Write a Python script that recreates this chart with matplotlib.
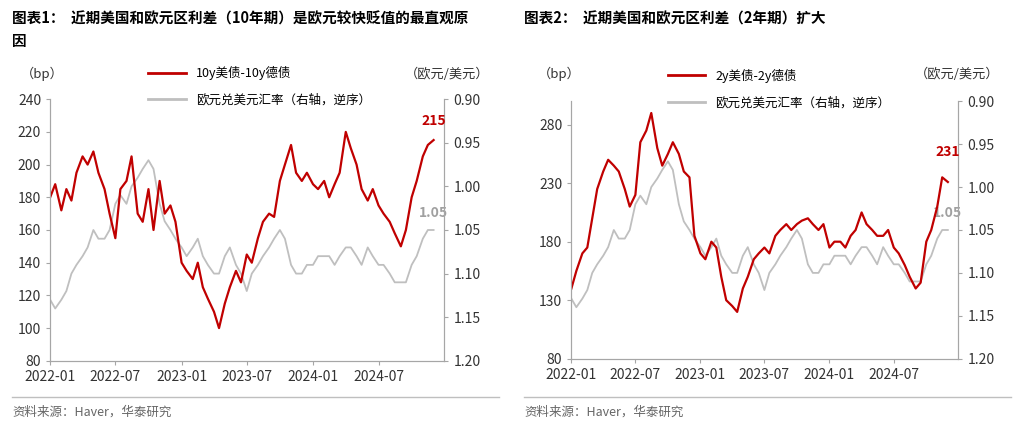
import numpy as np
import pandas as pd
import matplotlib.pyplot as plt
import matplotlib.dates as mdates

plt.rcParams["font.family"] = ["Noto Sans CJK SC", "DejaVu Sans"]

# semi-monthly samples, 2022-01 .. 2024-12
dates = pd.date_range("2022-01-01", periods=71, freq="SMS")

spread_10y = [180, 188, 172, 185, 178, 195, 205, 200, 208, 195, 185, 170,
              155, 185, 190, 205, 170, 165, 185, 160, 190, 170, 175, 165,
              140, 135, 130, 140, 125, 118, 110, 100, 115, 125, 135, 128,
              145, 140, 155, 165, 170, 168, 190, 200, 212, 195, 190, 195,
              188, 185, 190, 180, 188, 195, 220, 210, 200, 185, 178, 185,
              175, 170, 165, 158, 150, 160, 180, 190, 205, 212, 215]

spread_2y = [140, 155, 170, 175, 200, 225, 240, 250, 245, 240, 225, 210,
             220, 265, 275, 290, 260, 245, 255, 265, 255, 240, 235, 185,
             170, 165, 180, 175, 150, 130, 125, 120, 140, 150, 165, 170,
             175, 170, 185, 190, 195, 190, 195, 198, 200, 195, 190, 195,
             175, 180, 180, 175, 185, 190, 205, 195, 190, 185, 185, 190,
             175, 170, 160, 150, 140, 145, 180, 190, 210, 235, 231]

eurusd = [1.13, 1.14, 1.13, 1.12, 1.10, 1.09, 1.08, 1.07, 1.05, 1.06, 1.06, 1.05,
          1.02, 1.01, 1.02, 1.00, 0.99, 0.98, 0.97, 0.98, 1.02, 1.04, 1.05, 1.06,
          1.07, 1.08, 1.07, 1.06, 1.08, 1.09, 1.10, 1.10, 1.08, 1.07, 1.09, 1.10,
          1.12, 1.10, 1.09, 1.08, 1.07, 1.06, 1.05, 1.06, 1.09, 1.10, 1.10, 1.09,
          1.09, 1.08, 1.08, 1.08, 1.09, 1.08, 1.07, 1.07, 1.08, 1.09, 1.07, 1.08,
          1.09, 1.09, 1.10, 1.11, 1.11, 1.11, 1.09, 1.08, 1.06, 1.05, 1.05]

RED = "#c00000"
GREY = "#bfbfbf"
AXC = "#a6a6a6"

fig = plt.figure(figsize=(10.24, 4.22), dpi=100)


def panel(rect, spread, ylim, yticks, label, last_lbl, lbl_y):
    ax = fig.add_axes(rect)
    ax2 = ax.twinx()
    ax2.plot(dates, eurusd, color=GREY, lw=1.3)
    ax2.set_ylim(1.20, 0.90)
    ax2.set_yticks([0.90, 0.95, 1.00, 1.05, 1.10, 1.15, 1.20])
    ax2.set_yticklabels([f"{v:.2f}" for v in ax2.get_yticks()])
    ax.plot(dates, spread, color=RED, lw=1.6)
    ax.set_zorder(ax2.get_zorder() + 1)
    ax.patch.set_visible(False)
    ax.set_ylim(*ylim)
    ax.set_yticks(yticks)
    ax.set_xlim(pd.Timestamp("2022-01-01"), pd.Timestamp("2024-12-31"))
    ax.xaxis.set_major_locator(mdates.MonthLocator(bymonth=[1, 7]))
    ax.xaxis.set_major_formatter(mdates.DateFormatter("%Y-%m"))
    for a in (ax, ax2):
        a.spines["top"].set_visible(False)
        for s in ("left", "right", "bottom"):
            a.spines[s].set_color(AXC)
        a.tick_params(colors=AXC, labelcolor="#333333", labelsize=10, length=3)
    ax.plot([], [], color=RED, lw=2, label=label)
    ax.plot([], [], color=GREY, lw=2, label="欧元兑美元汇率（右轴，逆序）")
    ax.legend(loc="upper left", bbox_to_anchor=(0.22, 1.17), frameon=False,
              fontsize=9, handlelength=3, labelspacing=1.1)
    ax.text(dates[-1], lbl_y, last_lbl, color=RED, fontsize=10,
            fontweight="bold", ha="center")
    ax2.text(dates[-1], 1.035, "1.05", color="#a0a0a0", fontsize=10,
             fontweight="bold", ha="center")
    return ax


panel([0.049, 0.145, 0.385, 0.62], spread_10y, (80, 240),
      range(80, 241, 20), "10y美债-10y德债", "215", 224)
panel([0.558, 0.15, 0.378, 0.61], spread_2y, (80, 300),
      range(80, 281, 50), "2y美债-2y德债", "231", 253)

fig.text(0.012, 0.975, "图表1：  近期美国和欧元区利差（10年期）是欧元较快贬值的最直观原\n因",
         fontsize=10.5, fontweight="bold", va="top", linespacing=1.5)
fig.text(0.512, 0.975, "图表2：  近期美国和欧元区利差（2年期）扩大",
         fontsize=10.5, fontweight="bold", va="top")
fig.text(0.02, 0.815, "（bp）", fontsize=9.5, color="#333333")
fig.text(0.395, 0.815, "（欧元/美元）", fontsize=9.5, color="#333333")
fig.text(0.525, 0.815, "（bp）", fontsize=9.5, color="#333333")
fig.text(0.893, 0.815, "（欧元/美元）", fontsize=9.5, color="#333333")
for x0 in (0.012, 0.512):
    fig.add_artist(plt.Line2D([x0, x0 + 0.475], [0.06, 0.06], color="#bfbfbf", lw=1))
fig.text(0.012, 0.015, "资料来源：Haver，华泰研究", fontsize=9, color="#666666")
fig.text(0.512, 0.015, "资料来源：Haver，华泰研究", fontsize=9, color="#666666")

fig.savefig("out.png", dpi=100)
